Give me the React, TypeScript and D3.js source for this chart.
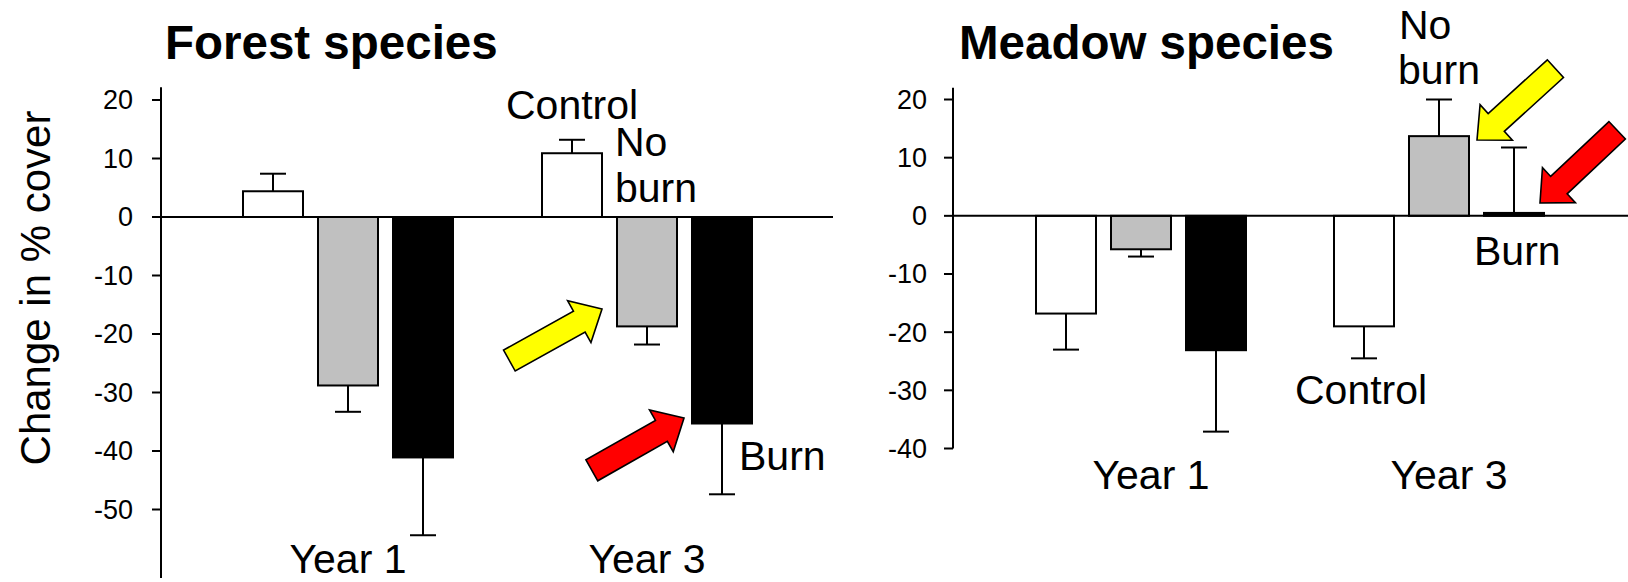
import React from "react";
import { scaleLinear, scaleBand, scalePoint } from "d3";

const years = ["Year 1", "Year 3"];
const treatments = ["Control", "No burn", "Burn"];
const fills = ["#ffffff", "#c0c0c0", "#000000"];

// change in % cover, one row per year, columns follow treatments
const forestMeans = [
  [4.4, -28.8, -41.1],
  [10.9, -18.7, -35.3],
];
const forestErrors = [
  [3.0, 4.5, 13.3],
  [2.3, 3.1, 12.1],
];
const meadowMeans = [
  [-16.8, -5.75, -23.1],
  [-19.0, 13.7, 0.5],
];
const meadowErrors = [
  [6.2, 1.25, 14.0],
  [5.5, 6.3, 11.25],
];
const forestTicks = [20, 10, 0, -10, -20, -30, -40, -50];
const meadowTicks = [20, 10, 0, -10, -20, -30, -40];

const FONT = "'Liberation Sans', Arial, sans-serif";

// block arrow, tip at origin pointing along +x
const arrowShape = [
  [0, 0], [-26, -24], [-26, -12], [-106, -12],
  [-106, 12], [-26, 12], [-26, 24],
];

function Arrow({ x, y, angle, fill }) {
  return (
    <polygon
      points={arrowShape.map((p) => p.join(",")).join(" ")}
      transform={`translate(${x},${y}) rotate(${angle})`}
      fill={fill}
      stroke="#000"
      strokeWidth={1.6}
      strokeLinejoin="miter"
    />
  );
}

function Panel({
  title, titleX, means, errors, ticks, yDomain, yRange, axisTop, axisBottom,
  axisX, zeroEnd, groupRange, yearY, yearDx, labelDx, labels, arrows,
}) {
  const y = scaleLinear().domain(yDomain).range(yRange);
  const xGroup = scalePoint().domain(years).range(groupRange);
  const xBar = scaleBand().domain(treatments).range([-105, 105]).paddingInner(0.2);
  const bw = xBar.bandwidth();

  return (
    <g>
      <text x={titleX} y={59} fontSize={47.5} fontWeight="bold" fontFamily={FONT}>
        {title}
      </text>

      {years.map((yr, gi) =>
        treatments.map((t, ti) => {
          const v = means[gi][ti];
          const e = errors[gi][ti];
          const x0 = xGroup(yr) + xBar(t);
          const cx = x0 + bw / 2;
          const tipV = v >= 0 ? v + e : v - e;
          return (
            <g key={yr + t}>
              <line x1={cx} x2={cx} y1={y(v)} y2={y(tipV)} stroke="#000" strokeWidth={2} />
              <line x1={cx - 13} x2={cx + 13} y1={y(tipV)} y2={y(tipV)} stroke="#000" strokeWidth={2} />
              <rect
                x={x0}
                y={Math.min(y(v), y(0))}
                width={bw}
                height={Math.max(Math.abs(y(v) - y(0)), 1)}
                fill={fills[ti]}
                stroke="#000"
                strokeWidth={2}
              />
            </g>
          );
        })
      )}

      <line x1={axisX} x2={axisX} y1={y(axisTop)} y2={y(axisBottom)} stroke="#000" strokeWidth={2} />
      <line x1={axisX} x2={zeroEnd} y1={y(0)} y2={y(0)} stroke="#000" strokeWidth={2} />
      {ticks.map((t) => (
        <g key={t}>
          <line x1={axisX - 9} x2={axisX} y1={y(t)} y2={y(t)} stroke="#000" strokeWidth={2} />
          <text
            x={axisX - labelDx}
            y={y(t)}
            dy="0.35em"
            textAnchor="end"
            fontSize={27}
            fontFamily={FONT}
          >
            {t}
          </text>
        </g>
      ))}

      {years.map((yr) => (
        <text
          key={yr}
          x={xGroup(yr) + yearDx}
          y={yearY}
          textAnchor="middle"
          fontSize={41}
          fontFamily={FONT}
        >
          {yr}
        </text>
      ))}

      {labels.map((l) => (
        <text key={l.text + l.y} x={l.x} y={l.y} fontSize={41} fontFamily={FONT}>
          {l.text}
        </text>
      ))}

      {arrows.map((a, i) => (
        <Arrow key={i} {...a} />
      ))}
    </g>
  );
}

export default function App() {
  return (
    <svg
      width={1628}
      height={582}
      style={{ position: "absolute", left: 0, top: 0, background: "#fff" }}
    >
      <rect width={1628} height={582} fill="#fff" />
      <text
        transform="translate(50,288) rotate(-90)"
        textAnchor="middle"
        fontSize={42}
        fontFamily={FONT}
      >
        Change in % cover
      </text>
      <Panel
        title="Forest species"
        titleX={165}
        means={forestMeans}
        errors={forestErrors}
        ticks={forestTicks}
        yDomain={[-50, 20]}
        yRange={[509.5, 100]}
        axisTop={22.2}
        axisBottom={-61.7}
        axisX={161}
        zeroEnd={833}
        groupRange={[348, 647]}
        yearY={573}
        yearDx={0}
        labelDx={28}
        labels={[
          { text: "Control", x: 506, y: 119 },
          { text: "No", x: 615, y: 156 },
          { text: "burn", x: 615, y: 202 },
          { text: "Burn", x: 739, y: 470 },
        ]}
        arrows={[
          { x: 602, y: 309, angle: -29.1, fill: "#ffff00" },
          { x: 684, y: 418, angle: -29.6, fill: "#ff0000" },
        ]}
      />
      <Panel
        title="Meadow species"
        titleX={959}
        means={meadowMeans}
        errors={meadowErrors}
        ticks={meadowTicks}
        yDomain={[-40, 20]}
        yRange={[448.5, 99.5]}
        axisTop={22}
        axisBottom={-40}
        axisX={953}
        zeroEnd={1628}
        groupRange={[1141, 1439]}
        yearY={489}
        yearDx={10}
        labelDx={26}
        labels={[
          { text: "Control", x: 1295, y: 404 },
          { text: "No", x: 1399, y: 39 },
          { text: "burn", x: 1398, y: 83.5 },
          { text: "Burn", x: 1474, y: 265 },
        ]}
        arrows={[
          { x: 1477, y: 140, angle: 137.7, fill: "#ffff00" },
          { x: 1540, y: 203, angle: 136.7, fill: "#ff0000" },
        ]}
      />
    </svg>
  );
}
